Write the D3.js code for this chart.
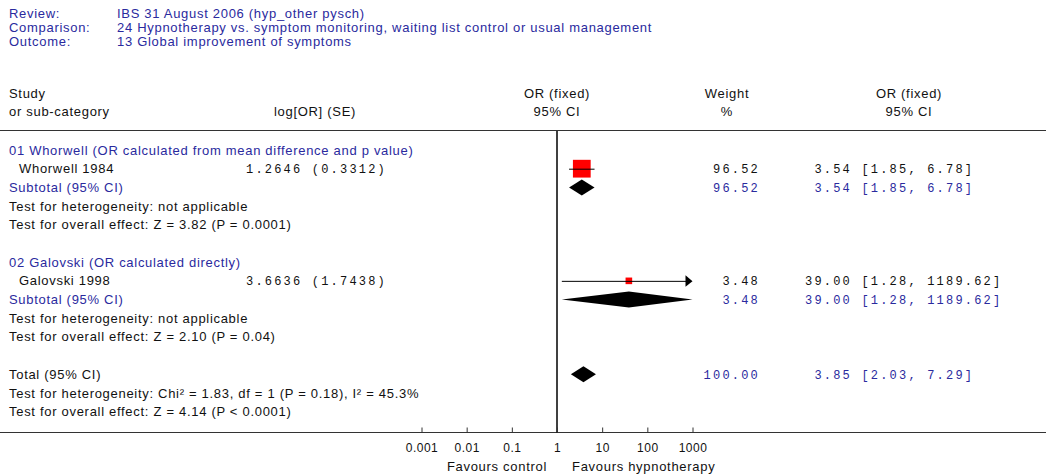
<!DOCTYPE html>
<html>
<head>
<meta charset="utf-8">
<script src="https://cdn.jsdelivr.net/npm/d3@7"></script>
<style>
  html, body { margin: 0; padding: 0; background: #fff; }
  svg { display: block; }
  .sans { font-family: "Liberation Sans", Arial, sans-serif; font-size: 13px; letter-spacing: 0.7px; }
  .tick-label { font-family: "Liberation Sans", Arial, sans-serif; font-size: 12px; letter-spacing: 0.5px; }
  .mono { font-family: "Liberation Mono", "Courier New", monospace; font-size: 12px; letter-spacing: 2.2px; white-space: pre; }
</style>
</head>
<body>
<div id="chart"></div>
<script>
// header block
const headerLabels = ['Review:', 'Comparison:', 'Outcome:'];
const headerValues = [
  'IBS 31 August 2006 (hyp_other pysch)',
  '24 Hypnotherapy vs. symptom monitoring, waiting list control or usual management',
  '13 Global improvement of symptoms'
];

// sub-categories and their single study each
const groupNames = [
  '01 Whorwell (OR calculated from mean difference and p value)',
  '02 Galovski (OR calculated directly)'
];
const studyNames = ['Whorwell 1984', 'Galovski 1998'];
const studyLogOR = ['1.2646', '3.6636'];
const studySE = ['0.3312', '1.7438'];
const studyOR = [3.54, 39.00];
const studyLower = [1.85, 1.28];
const studyUpper = [6.78, 1189.62];
const studyWeight = [96.52, 3.48];

const subtotalOR = [3.54, 39.00];
const subtotalLower = [1.85, 1.28];
const subtotalUpper = [6.78, 1189.62];
const subtotalWeight = [96.52, 3.48];
const heterogeneityText = [
  'Test for heterogeneity: not applicable',
  'Test for heterogeneity: not applicable'
];
const effectText = [
  'Test for overall effect: Z = 3.82 (P = 0.0001)',
  'Test for overall effect: Z = 2.10 (P = 0.04)'
];

// pooled total
const totalOR = 3.85;
const totalLower = 2.03;
const totalUpper = 7.29;
const totalWeight = 100.00;
const totalHeterogeneity = 'Test for heterogeneity: Chi² = 1.83, df = 1 (P = 0.18), I² = 45.3%';
const totalEffect = 'Test for overall effect: Z = 4.14 (P < 0.0001)';

// axis
const axisTicks = [0.001, 0.01, 0.1, 1, 10, 100, 1000];
const favoursLabels = ['Favours control', 'Favours hypnotherapy'];

const width = 1046;
const height = 474;
const blue = '#2a2a9e';
const ink = '#111';

const svg = d3.select('#chart')
  .append('svg')
  .attr('width', width)
  .attr('height', height);

// log scale for odds ratios, linear scale for table rows
const x = d3.scaleLog().domain([0.001, 1000]).range([421.5, 692.5]);
const row = d3.scaleLinear().domain([0, 14]).range([150, 411.7]);
const boxSize = d3.scaleSqrt().domain([0, 100]).range([4, 18]);

const fmt2 = d3.format('.2f');
const ciText = (or, lo, hi) => (fmt2(or).padStart(5, ' ') + ' [' + fmt2(lo) + ', ' + fmt2(hi) + ']');

// header block
headerLabels.forEach((label, i) => {
  svg.append('text').attr('class', 'sans')
    .attr('x', 9).attr('y', 13 + i * 14).attr('dy', '0.35em')
    .attr('fill', blue).text(label);
  svg.append('text').attr('class', 'sans')
    .attr('x', 117).attr('y', 13 + i * 14).attr('dy', '0.35em')
    .attr('fill', blue).text(headerValues[i]);
});

// column headings
const headY = [93, 111];
svg.append('text').attr('class', 'sans').attr('x', 9).attr('y', headY[0]).attr('dy', '0.35em').attr('fill', ink).text('Study');
svg.append('text').attr('class', 'sans').attr('x', 9).attr('y', headY[1]).attr('dy', '0.35em').attr('fill', ink).text('or sub-category');
svg.append('text').attr('class', 'sans').attr('x', 315).attr('y', headY[1]).attr('dy', '0.35em').attr('text-anchor', 'middle').attr('fill', ink).text('log[OR] (SE)');
[['OR (fixed)', '95% CI', x(1)], ['Weight', '%', 727], ['OR (fixed)', '95% CI', 909]].forEach(([a, b, cx]) => {
  svg.append('text').attr('class', 'sans').attr('x', cx).attr('y', headY[0]).attr('dy', '0.35em').attr('text-anchor', 'middle').attr('fill', ink).text(a);
  svg.append('text').attr('class', 'sans').attr('x', cx).attr('y', headY[1]).attr('dy', '0.35em').attr('text-anchor', 'middle').attr('fill', ink).text(b);
});

svg.append('line')
  .attr('x1', 0).attr('x2', width)
  .attr('y1', 130.5).attr('y2', 130.5)
  .attr('stroke', '#333').attr('stroke-width', 1.2);

// helpers
const leftText = (r, txt, color, indent) => svg.append('text').attr('class', 'sans')
  .attr('x', indent ? 19 : 9).attr('y', row(r)).attr('dy', '0.35em')
  .attr('fill', color).text(txt);

const weightText = (r, w, color) => svg.append('text').attr('class', 'mono')
  .attr('x', 760).attr('y', row(r)).attr('dy', '0.35em')
  .attr('text-anchor', 'end').attr('fill', color).text(fmt2(w));

const orText = (r, or, lo, hi, color) => svg.append('text').attr('class', 'mono')
  .attr('x', 805).attr('y', row(r)).attr('dy', '0.35em')
  .attr('fill', color).text(ciText(or, lo, hi));

const [xMin, xMax] = x.domain();
const diamond = (r, or, lo, hi) => {
  const y = row(r);
  const pts = [
    [x(Math.max(lo, xMin)), y],
    [x(or), y - 8],
    [x(Math.min(hi, xMax)), y],
    [x(or), y + 8]
  ];
  svg.append('polygon').attr('points', pts.map(p => p.join(',')).join(' ')).attr('fill', '#000');
};

// sub-categories
groupNames.forEach((name, g) => {
  const base = g * 6;
  leftText(base, name, blue, false);
  leftText(base + 1, studyNames[g], ink, true);
  svg.append('text').attr('class', 'mono')
    .attr('x', 246).attr('y', row(base + 1)).attr('dy', '0.35em')
    .attr('fill', ink).text(studyLogOR[g] + ' (' + studySE[g] + ')');
  leftText(base + 2, 'Subtotal (95% CI)', blue, false);
  leftText(base + 3, heterogeneityText[g], ink, false);
  leftText(base + 4, effectText[g], ink, false);

  // study box + CI
  const y = row(base + 1);
  const s = boxSize(studyWeight[g]);
  svg.append('rect')
    .attr('x', x(studyOR[g]) - s / 2).attr('y', y - s / 2)
    .attr('width', s).attr('height', s)
    .attr('fill', '#f00');
  const hiClipped = studyUpper[g] > xMax;
  const x1 = x(Math.max(studyLower[g], xMin));
  const x2 = x(Math.min(studyUpper[g], xMax));
  svg.append('line')
    .attr('x1', x1).attr('x2', hiClipped ? x2 - 4 : x2)
    .attr('y1', y + 0.5).attr('y2', y + 0.5)
    .attr('stroke', '#000').attr('stroke-width', 1);
  if (hiClipped) {
    svg.append('polygon')
      .attr('points', [[x2 - 7, y - 5.5], [x2, y + 0.5], [x2 - 7, y + 6]].map(p => p.join(',')).join(' '))
      .attr('fill', '#000');
  }
  weightText(base + 1, studyWeight[g], ink);
  orText(base + 1, studyOR[g], studyLower[g], studyUpper[g], ink);

  diamond(base + 2, subtotalOR[g], subtotalLower[g], subtotalUpper[g]);
  weightText(base + 2, subtotalWeight[g], blue);
  orText(base + 2, subtotalOR[g], subtotalLower[g], subtotalUpper[g], blue);
});

// total
leftText(12, 'Total (95% CI)', ink, false);
leftText(13, totalHeterogeneity, ink, false);
leftText(14, totalEffect, ink, false);
diamond(12, totalOR, totalLower, totalUpper);
weightText(12, totalWeight, blue);
orText(12, totalOR, totalLower, totalUpper, blue);

// axis
const axisY = 432.5;
svg.append('line')
  .attr('x1', 0).attr('x2', width)
  .attr('y1', axisY).attr('y2', axisY)
  .attr('stroke', '#333').attr('stroke-width', 1.2);

svg.append('line')
  .attr('x1', x(1)).attr('x2', x(1))
  .attr('y1', 131).attr('y2', axisY)
  .attr('stroke', '#000').attr('stroke-width', 1.5);

const axis = svg.append('g')
  .attr('transform', `translate(0,${axisY})`)
  .call(d3.axisBottom(x)
    .tickValues(axisTicks)
    .tickFormat(d => String(d))
    .tickSizeInner(-5)
    .tickSizeOuter(0)
    .tickPadding(11));
axis.select('.domain').remove();
axis.selectAll('line').attr('stroke', '#333');
axis.selectAll('text')
  .attr('class', 'tick-label')
  .attr('fill', ink)
  .attr('font-size', null)
  .attr('font-family', null);

svg.append('text').attr('class', 'sans')
  .attr('x', x(1) - 10).attr('y', 466).attr('dy', '0.35em')
  .attr('text-anchor', 'end').attr('fill', ink).text(favoursLabels[0]);
svg.append('text').attr('class', 'sans')
  .attr('x', x(1) + 15).attr('y', 466).attr('dy', '0.35em')
  .attr('fill', ink).text(favoursLabels[1]);
</script>
</body>
</html>
